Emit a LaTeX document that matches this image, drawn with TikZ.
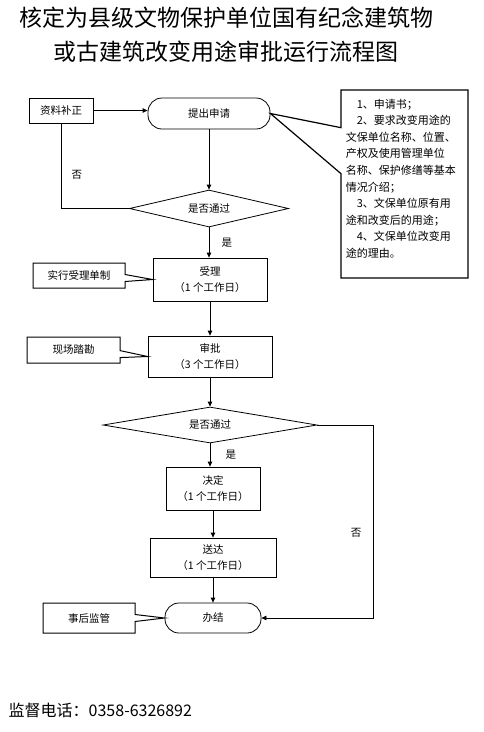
\documentclass[tikz,border=0pt]{standalone}
\usepackage{fontspec}
\newfontfamily\cjk{Noto Sans CJK SC}
\usetikzlibrary{positioning, arrows.meta, shapes.geometric, shapes.callouts}

\begin{document}
\begin{tikzpicture}[
        x=1pt, y=-1pt,
        >={Triangle[length=5pt, width=4.5pt]},
        font=\cjk\fontsize{10.5}{16.5}\selectfont,
        line width=0.8pt,
        stepbox/.style={rectangle, draw, align=center, inner sep=2pt},
        endbox/.style={rectangle, rounded corners=14pt, draw, inner sep=2pt},
        check/.style={diamond, draw, inner sep=0pt, aspect=4},
        memo/.style={rectangle callout, draw, line width=1pt, inner sep=2pt, callout pointer width=7pt}
    ]
        \useasboundingbox (0,0) rectangle (484,732);

        % title
        \node[font=\cjk\fontsize{23}{34}\selectfont, align=center] (title) at (226.5, 35)
            {核定为县级文物保护单位国有纪念建筑物\\或古建筑改变用途审批运行流程图};

        % main flow
        \node[stepbox, minimum width=64pt, minimum height=25pt] (buzheng) at (61, 110.5) {资料补正};
        \node[endbox, minimum width=122pt, minimum height=31pt] (tichu) at (209, 113.5) {提出申请};
        \node[check, minimum width=159pt, minimum height=37pt] (pass1) at (209, 208.5) {是否通过};
        \node[stepbox, minimum width=114pt, minimum height=43pt] (shouli) at (210, 279.5) {受理\\（1 个工作日）};
        \node[stepbox, minimum width=124pt, minimum height=41pt] (shenpi) at (210, 356.5) {审批\\（3 个工作日）};
        \node[check, minimum width=214pt, minimum height=36pt] (pass2) at (210, 425) {是否通过};
        \node[stepbox, minimum width=94pt, minimum height=43pt] (jueding) at (213, 488.5) {决定\\（1 个工作日）};
        \node[stepbox, minimum width=126pt, minimum height=39pt] (songda) at (213, 557.5) {送达\\（1 个工作日）};
        \node[endbox, minimum width=96pt, minimum height=30pt] (banjie) at (213, 618) {办结};
        \coordinate (turn) at (373, 425);

        \draw[->] (buzheng.east) -- (buzheng.east -| tichu.west);
        \draw[->] (tichu) -- (pass1);
        \draw (pass1.west) -| node[pos=0.7, right=7pt]{否} (buzheng.south);
        \draw[->] (pass1.south) -- node[right=9pt]{是} (pass1.south |- shouli.north);
        \draw[->] (shouli.south) -- (shouli.south |- shenpi.north);
        \draw[->] (shenpi.south) -- (shenpi.south |- pass2.north);
        \draw[->] (pass2.south) -- node[right=12pt]{是} (pass2.south |- jueding.north);
        \draw[->] (jueding.south) -- (jueding.south |- songda.north);
        \draw[->] (songda.south) -- (songda.south |- banjie.north);
        \draw[->] (pass2.east) -- (turn) |- node[pos=0.28, left=8pt]{否} (banjie.east);

        % side notes
        \node[memo, minimum width=127pt, minimum height=188pt, line width=1.2pt,
              callout pointer width=46pt, callout absolute pointer=(tichu.east)] (needs) at (404.5, 184) {};
        \node[below right=9pt and 5pt of needs.north west, align=left, inner sep=0pt,
              font=\cjk\fontsize{11}{16.6}\selectfont] (needstext)
            {\hspace*{1em}1、申请书；\\
             \hspace*{1em}2、要求改变用途的\\
             文保单位名称、位置、\\
             产权及使用管理单位\\
             名称、保护修缮等基本\\
             情况介绍；\\
             \hspace*{1em}3、文保单位原有用\\
             途和改变后的用途；\\
             \hspace*{1em}4、文保单位改变用\\
             途的理由。};
        \node[memo, minimum width=92pt, minimum height=25pt, callout absolute pointer=(shouli.west)] (rule) at (79, 275.5) {实行受理单制};
        \node[memo, minimum width=93pt, minimum height=26pt, callout absolute pointer=(shenpi.west)] (survey) at (73.5, 350) {现场踏勘};
        \node[memo, minimum width=92pt, minimum height=30pt, callout absolute pointer=(banjie.west)] (watch) at (89, 618) {事后监管};

        % footer
        \node[anchor=west, font=\cjk\fontsize{16}{18}\selectfont] (phone) at (5, 710) {监督电话：0358-6326892};
    \end{tikzpicture}
\end{document}
